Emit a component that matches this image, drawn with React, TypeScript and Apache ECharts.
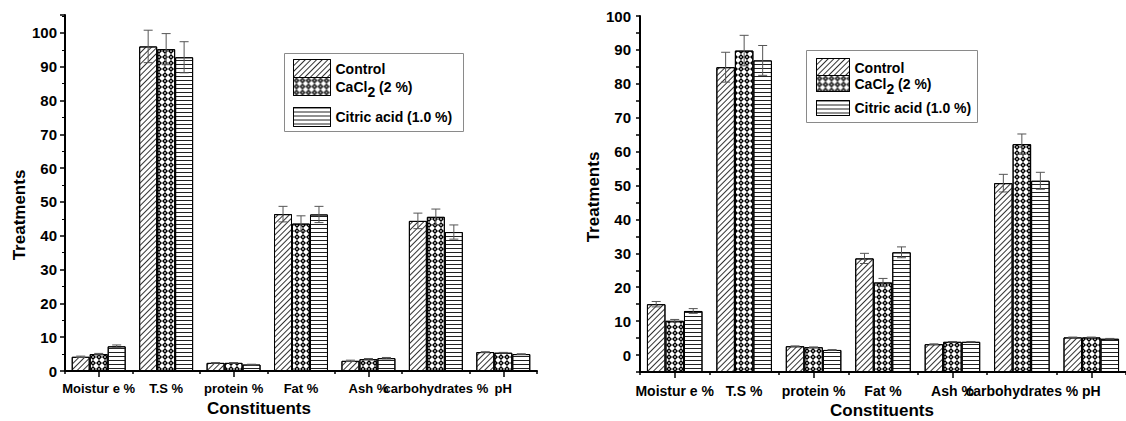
import React, { useEffect, useRef } from 'react';
import * as echarts from 'echarts';

const categories = ['Moistur e %', 'T.S %', 'protein %', 'Fat %', 'Ash %', 'carbohydrates %', 'pH'];
const treatments = ['Control', 'CaCl2 (2 %)', 'Citric acid (1.0 %)'];

// Left panel
const leftControl = [4.2, 96.0, 2.4, 46.4, 3.0, 44.4, 5.6];
const leftCaCl2 = [5.0, 95.2, 2.4, 43.6, 3.5, 45.6, 5.4];
const leftCitric = [7.3, 92.8, 1.9, 46.3, 3.8, 41.1, 5.0];
const leftControlErr = [0.2, 4.8, 0.1, 2.3, 0.2, 2.3, 0.1];
const leftCaCl2Err = [0.2, 4.6, 0.1, 2.3, 0.2, 2.3, 0.1];
const leftCitricErr = [0.4, 4.6, 0.1, 2.4, 0.2, 2.1, 0.1];

// Right panel
const rightControl = [15.0, 84.9, 2.6, 28.5, 3.2, 50.7, 5.2];
const rightCaCl2 = [10.1, 89.8, 2.3, 21.4, 3.9, 62.2, 5.2];
const rightCitric = [13.0, 86.9, 1.5, 30.3, 3.9, 51.4, 4.8];
const rightControlErr = [0.8, 4.4, 0.1, 1.5, 0.1, 2.6, 0.1];
const rightCaCl2Err = [0.4, 4.5, 0.1, 1.2, 0.1, 3.0, 0.1];
const rightCitricErr = [0.7, 4.4, 0.1, 1.6, 0.1, 2.5, 0.1];

const leftMin = 0;
const leftMax = 105.3;
const rightMin = -5;
const rightMax = 100;

const FONT = 'Liberation Sans, Arial, sans-serif';

const diamondRing = 'path://M5 0L10 5L5 10L0 5ZM5 3.2L3.2 5L5 6.8L6.8 5Z';

const decals: any[] = [
  { symbol: 'rect', symbolSize: 1, color: '#333', backgroundColor: '#fff', dashArrayX: [1, 0], dashArrayY: [1, 3], rotation: -Math.PI / 4 },
  { symbol: diamondRing, symbolSize: 1, symbolKeepAspect: false, color: '#000', backgroundColor: '#fff', dashArrayX: [6, 0], dashArrayY: [6, 0], rotation: 0 },
  { symbol: 'rect', symbolSize: 1, color: '#222', backgroundColor: '#fff', dashArrayX: [1, 0], dashArrayY: [1, 3], rotation: 0 },
];

function barStyle(k: number) {
  return { color: '#fff', borderColor: '#000', borderWidth: 1, decal: decals[k] };
}

function errSeries(vals: number[], errs: number[], k: number, xi: number, yi: number) {
  return {
    type: 'custom',
    xAxisIndex: xi,
    yAxisIndex: yi,
    z: 5,
    silent: true,
    data: vals.map((v, i) => [i, v, errs[i]]),
    encode: { x: 0, y: 1 },
    renderItem: (params: any, api: any) => {
      const i = api.value(0);
      const v = api.value(1);
      const e = api.value(2);
      const band = api.size([1, 0])[0];
      const bw = (band * 0.8) / 3;
      const x = api.coord([i, v])[0] + (k - 1) * bw;
      const yT = api.coord([i, v + e])[1];
      const yB = api.coord([i, v - e])[1];
      const cap = 4.5;
      const st = { stroke: '#555', lineWidth: 1 };
      return {
        type: 'group',
        children: [
          { type: 'line', shape: { x1: x, y1: yT, x2: x, y2: yB }, style: st },
          { type: 'line', shape: { x1: x - cap, y1: yT, x2: x + cap, y2: yT }, style: st },
          { type: 'line', shape: { x1: x - cap, y1: yB, x2: x + cap, y2: yB }, style: st },
        ],
      };
    },
  };
}

function xAxes(grid: number, fontSize: number, margin: number) {
  return [
    {
      gridIndex: grid,
      type: 'category',
      data: categories,
      position: 'bottom',
      axisLine: { show: true, onZero: false, lineStyle: { color: '#000', width: 2 } },
      axisTick: { show: true, alignWithLabel: false, length: 3, lineStyle: { color: '#000', width: 1.5 } },
      axisLabel: { interval: 0, color: '#000', fontWeight: 'bold', fontSize, fontFamily: FONT, margin },
      splitLine: { show: false },
    },
    {
      gridIndex: grid,
      type: 'category',
      data: categories,
      position: 'bottom',
      axisLine: { show: false, onZero: false },
      axisTick: { show: true, alignWithLabel: true, length: 6, lineStyle: { color: '#000', width: 1.5 } },
      axisLabel: { show: false },
      splitLine: { show: false },
    },
  ];
}

function legendItem(name: string, left: number, top: number, iw: number, ih: number) {
  return {
    data: [name],
    left,
    top,
    padding: 0,
    itemWidth: iw,
    itemHeight: ih,
    icon: 'rect',
    selectedMode: false,
    itemStyle: { borderColor: '#000', borderWidth: 1 },
    formatter: (n: string) => (n === 'CaCl2 (2 %)' ? '{n|CaCl}{s|2}{n| (2 %)}' : n),
    textStyle: {
      color: '#000',
      fontWeight: 'bold',
      fontSize: 14,
      fontFamily: FONT,
      rich: {
        n: { color: '#000', fontWeight: 'bold', fontSize: 14, fontFamily: FONT },
        s: { color: '#000', fontWeight: 'bold', fontSize: 14, fontFamily: FONT, padding: [10, 0, 0, 0] },
      },
    },
  };
}

function axisName(text: string, x: number, y: number, size: number, rotate: boolean) {
  return {
    type: 'text',
    x,
    y,
    rotation: rotate ? Math.PI / 2 : 0,
    style: {
      text,
      fill: '#000',
      fontSize: size,
      fontWeight: 'bold',
      fontFamily: FONT,
      align: 'center',
      verticalAlign: 'middle',
      textAlign: 'center',
      textVerticalAlign: 'middle',
    },
  };
}

function buildOption() {
  const leftVals = [leftControl, leftCaCl2, leftCitric];
  const leftErrs = [leftControlErr, leftCaCl2Err, leftCitricErr];
  const rightVals = [rightControl, rightCaCl2, rightCitric];
  const rightErrs = [rightControlErr, rightCaCl2Err, rightCitricErr];

  const series: any[] = [];
  leftVals.forEach((vals, k) => {
    series.push({
      type: 'bar',
      name: treatments[k],
      data: vals,
      xAxisIndex: 0,
      yAxisIndex: 0,
      barGap: '0%',
      barCategoryGap: '20%',
      itemStyle: barStyle(k),
      emphasis: { disabled: true },
      z: 2,
    });
  });
  leftVals.forEach((vals, k) => series.push(errSeries(vals, leftErrs[k], k, 0, 0)));

  rightVals.forEach((vals, k) => {
    series.push({
      type: 'bar',
      name: '_base' + k,
      stack: 'r' + k,
      stackStrategy: 'all',
      data: vals.map(() => rightMin),
      xAxisIndex: 2,
      yAxisIndex: 1,
      barGap: '0%',
      barCategoryGap: '20%',
      silent: true,
      itemStyle: { color: 'rgba(0,0,0,0)', borderWidth: 0 },
      emphasis: { disabled: true },
      z: 1,
    });
    series.push({
      type: 'bar',
      name: treatments[k],
      stack: 'r' + k,
      stackStrategy: 'all',
      data: vals.map((v) => v - rightMin),
      xAxisIndex: 2,
      yAxisIndex: 1,
      barGap: '0%',
      barCategoryGap: '20%',
      itemStyle: barStyle(k),
      emphasis: { disabled: true },
      z: 2,
    });
  });
  rightVals.forEach((vals, k) => series.push(errSeries(vals, rightErrs[k], k, 2, 1)));

  const yLabel = (margin: number) => ({
    color: '#000',
    fontWeight: 'bold',
    fontSize: 15,
    fontFamily: FONT,
    margin,
    formatter: (v: number) => (Math.abs(v % 10) < 1e-9 ? String(v) : ''),
  });

  return {
    animation: false,
    backgroundColor: '#fff',
    grid: [
      { left: 65, top: 15, width: 472, height: 356 },
      { left: 640, top: 16, width: 501, height: 356 },
    ],
    xAxis: [...xAxes(0, 13, 11), ...xAxes(1, 14, 12)],
    yAxis: [
      {
        gridIndex: 0,
        type: 'value',
        min: leftMin,
        max: leftMax,
        interval: 10,
        axisLine: { show: true, lineStyle: { color: '#000', width: 2 } },
        axisTick: { show: true, length: 5, lineStyle: { color: '#000', width: 1.5 } },
        minorTick: { show: true, splitNumber: 2, length: 3, lineStyle: { color: '#000', width: 1 } },
        splitLine: { show: false },
        axisLabel: yLabel(8),
      },
      {
        gridIndex: 1,
        type: 'value',
        min: rightMin,
        max: rightMax,
        interval: 5,
        axisLine: { show: true, lineStyle: { color: '#000', width: 2 } },
        axisTick: { show: true, length: 4, lineStyle: { color: '#000', width: 1.5 } },
        splitLine: { show: false },
        axisLabel: yLabel(9),
      },
    ],
    legend: [
      legendItem(treatments[0], 293, 59, 37, 18),
      legendItem(treatments[1], 293, 77, 37, 18),
      legendItem(treatments[2], 293, 107, 37, 19),
      legendItem(treatments[0], 816, 58, 33, 18),
      legendItem(treatments[1], 816, 75, 33, 16),
      legendItem(treatments[2], 816, 100, 33, 15),
    ],
    graphic: [
      { type: 'rect', z: 0, shape: { x: 284.5, y: 53.5, width: 179, height: 78 }, style: { fill: 'none', stroke: '#8a8a8a', lineWidth: 1 } },
      { type: 'rect', z: 0, shape: { x: 806.5, y: 50.5, width: 171, height: 72 }, style: { fill: 'none', stroke: '#8a8a8a', lineWidth: 1 } },
      axisName('Treatments', 19, 215, 17, true),
      axisName('Constituents', 259, 408, 17, false),
      axisName('Treatments', 593, 197, 17, true),
      axisName('Constituents', 882, 410, 17, false),
    ],
    series,
  };
}

export default function App() {
  const ref = useRef<HTMLDivElement>(null);
  useEffect(() => {
    document.body.style.margin = '0';
    const chart = echarts.init(ref.current!, null, { renderer: 'svg' });
    chart.setOption(buildOption() as any);
    return () => chart.dispose();
  }, []);
  return <div ref={ref} style={{ width: 1126, height: 421, background: '#fff', overflow: 'hidden' }} />;
}
